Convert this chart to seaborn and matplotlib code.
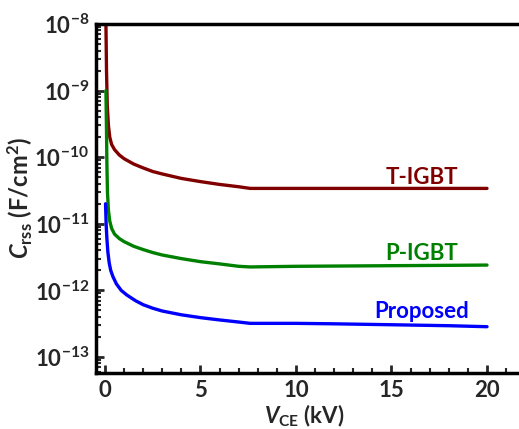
import numpy as np
import pandas as pd
import matplotlib
matplotlib.use("Agg")
import matplotlib.pyplot as plt
import seaborn as sns
from matplotlib.ticker import MultipleLocator, LogLocator, NullFormatter

# ---- data ----
t_x = [0.05, 0.08, 0.12, 0.18, 0.25, 0.35, 0.5, 0.75, 1.0, 1.5, 2.0, 2.5, 3.0, 4.0, 5.0, 6.0, 7.0,
       7.6, 10, 12, 15, 18, 20]
t_y = [1e-8, 2e-9, 6e-10, 3e-10, 2e-10, 1.55e-10, 1.3e-10, 1.08e-10, 9.5e-11, 7.9e-11, 6.9e-11,
       6.1e-11, 5.6e-11, 4.8e-11, 4.3e-11, 3.9e-11, 3.6e-11, 3.4e-11, 3.4e-11, 3.4e-11, 3.4e-11,
       3.4e-11, 3.4e-11]

p_x = [0.05, 0.08, 0.1, 0.13, 0.18, 0.25, 0.35, 0.5, 0.75, 1.0, 1.5, 2.0, 2.5, 3.0, 4.0, 5.0, 6.0,
       7.0, 7.6, 10, 15, 20]
p_y = [1e-9, 2.5e-10, 8e-11, 3e-11, 1.6e-11, 1.1e-11, 8.5e-12, 7e-12, 6e-12, 5.4e-12, 4.6e-12,
       4.1e-12, 3.7e-12, 3.4e-12, 3.0e-12, 2.7e-12, 2.5e-12, 2.3e-12, 2.25e-12, 2.3e-12, 2.35e-12,
       2.4e-12]

n_x = [0.03, 0.06, 0.1, 0.15, 0.22, 0.3, 0.42, 0.6, 0.85, 1.15, 1.6, 2.0, 2.5, 3.0, 4.0, 5.0, 6.0,
       7.0, 7.6, 10, 12, 15, 18, 20]
n_y = [2e-11, 1e-11, 6e-12, 3.8e-12, 2.6e-12, 2e-12, 1.6e-12, 1.25e-12, 1e-12, 8.5e-13, 7e-13,
       6.1e-13, 5.4e-13, 4.9e-13, 4.3e-13, 3.9e-13, 3.6e-13, 3.35e-13, 3.2e-13, 3.2e-13, 3.15e-13,
       3.05e-13, 2.95e-13, 2.85e-13]

series = ["T-IGBT", "P-IGBT", "Proposed"]
colors = ["#800000", "#008000", "#0000FF"]
label_pos = [(16.6, 5.0e-11), (16.6, 3.6e-12), (16.6, 4.9e-13)]
y_ticks = [1e-13, 1e-12, 1e-11, 1e-10, 1e-9, 1e-8]

df = pd.concat([
    pd.DataFrame({"V": t_x, "C": t_y, "dev": series[0]}),
    pd.DataFrame({"V": p_x, "C": p_y, "dev": series[1]}),
    pd.DataFrame({"V": n_x, "C": n_y, "dev": series[2]}),
], ignore_index=True)

sns.set_style("ticks")
plt.rcParams["font.family"] = ["Lato", "DejaVu Sans"]
plt.rcParams["font.weight"] = "bold"
plt.rcParams["mathtext.fontset"] = "custom"
plt.rcParams["mathtext.rm"] = "Lato:bold"
plt.rcParams["mathtext.bf"] = "Lato:bold"
plt.rcParams["mathtext.it"] = "Lato:bold:italic"
plt.rcParams["mathtext.default"] = "regular"

fig = plt.figure(figsize=(5.19, 4.29), dpi=100)
ax = fig.add_axes([96 / 519, 56 / 429, (540 - 96) / 519, (373 - 24) / 429])

sns.lineplot(data=df, x="V", y="C", hue="dev", palette=dict(zip(series, colors)),
             linewidth=2.4, legend=False, ax=ax, sort=False, estimator=None)

ax.set_yscale("log")
ax.set_xlim(-0.47, (540 - 105) / 19.1)
ax.set_ylim(10 ** (-8 - (373 - 24) / 66.6), 1e-8)

ax.xaxis.set_major_locator(MultipleLocator(5))
ax.xaxis.set_minor_locator(MultipleLocator(1))
ax.set_yticks(y_ticks)
ax.yaxis.set_minor_locator(LogLocator(base=10, subs=np.arange(2, 10), numticks=20))
ax.yaxis.set_minor_formatter(NullFormatter())

for s in ax.spines.values():
    s.set_linewidth(2.5)
    s.set_color("black")
ax.tick_params(which="major", direction="in", length=6, width=2, labelsize=16, pad=5)
ax.tick_params(which="minor", direction="in", length=3.5, width=1.5)
for lab in ax.get_xticklabels() + ax.get_yticklabels():
    lab.set_fontweight("bold")

ax.set_xlabel("$\\mathit{V}_{\\rm CE}$ (kV)", fontsize=16, fontweight="bold")
ax.set_ylabel("$\\mathit{C}_{\\rm rss}$ (F/cm$^{2}$)", fontsize=17, fontweight="bold")
ax.xaxis.label.set_verticalalignment("baseline")
ax.xaxis.set_label_coords((304 - 96) / 444, (373 - 423) / 349)
ax.yaxis.set_label_coords((35 - 96) / 444, 0.5)

for name, col, (lx, ly) in zip(series, colors, label_pos):
    ax.text(lx, ly, name, color=col, fontsize=16, fontweight="bold", ha="center", va="center")

fig.savefig("out.png", dpi=100)
